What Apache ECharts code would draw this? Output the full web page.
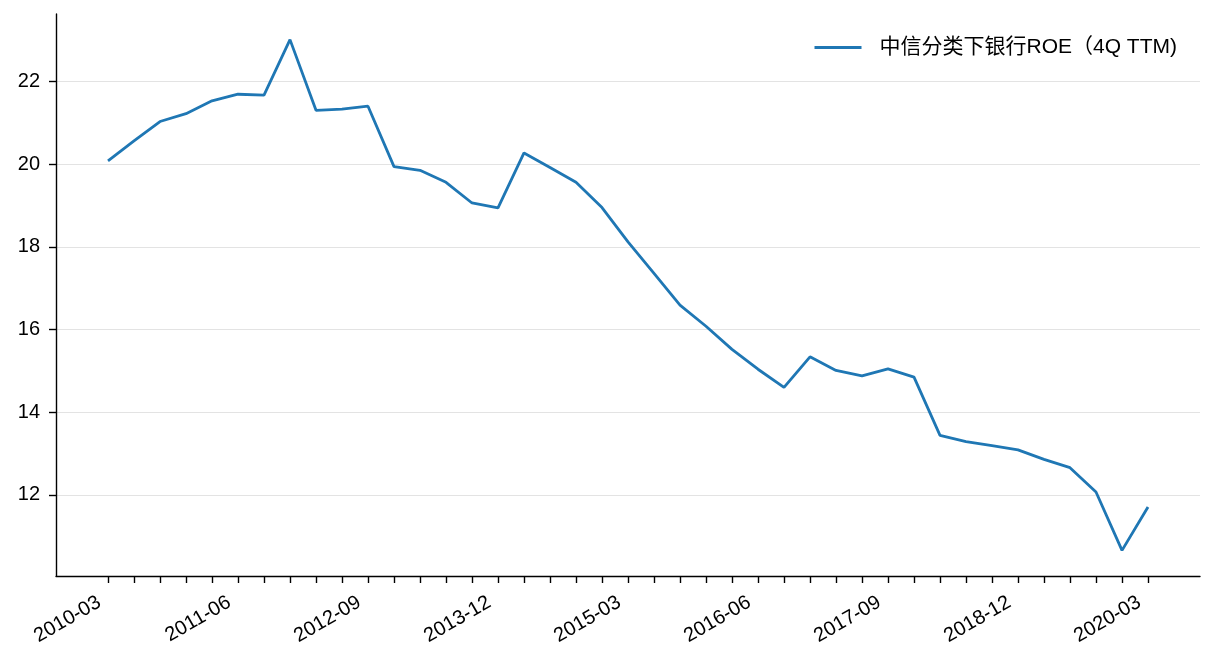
<!DOCTYPE html>
<html>
<head>
<meta charset="utf-8">
<script src="https://cdn.jsdelivr.net/npm/echarts@6/dist/echarts.min.js"></script>
<style>
  html, body { margin: 0; padding: 0; background: #fff; }
  #main { width: 1216px; height: 672px; }
</style>
</head>
<body>
<div id="main"></div>
<script>
// quarters 2010-03 .. 2020-03
var quarters = [
  '2010-03', '2010-06', '2010-09', '2010-12',
  '2011-03', '2011-06', '2011-09', '2011-12',
  '2012-03', '2012-06', '2012-09', '2012-12',
  '2013-03', '2013-06', '2013-09', '2013-12',
  '2014-03', '2014-06', '2014-09', '2014-12',
  '2015-03', '2015-06', '2015-09', '2015-12',
  '2016-03', '2016-06', '2016-09', '2016-12',
  '2017-03', '2017-06', '2017-09', '2017-12',
  '2018-03', '2018-06', '2018-09', '2018-12',
  '2019-03', '2019-06', '2019-09', '2019-12',
  '2020-03'
];
var roe = [
  20.08, 20.56, 21.03, 21.22, 21.53, 21.69, 21.67, 23.01, 21.30, 21.33,
  21.40, 19.94, 19.85, 19.56, 19.06, 18.94, 20.27, 19.92, 19.56, 18.95,
  18.12, 17.36, 16.59, 16.08, 15.52, 15.04, 14.60, 15.34, 15.01, 14.88,
  15.05, 14.85, 13.44, 13.29, 13.19, 13.09, 12.86, 12.66, 12.07, 10.66,
  11.71
];
var yTicks = [12, 14, 16, 18, 20, 22];
var seriesName = '中信分类下银行ROE（4Q TTM)';

var font = '"Liberation Sans", Arial, "Noto Sans CJK SC", sans-serif';

var tickIdx = [];
var labelIdx = [];
for (var i = 0; i < quarters.length; i++) {
  tickIdx.push(i);
  if (i % 5 === 0) labelIdx.push(i);
}
var points = [];
for (var j = 0; j < roe.length; j++) points.push([j, roe[j]]);

var chart = echarts.init(document.getElementById('main'));
chart.setOption({
  animation: false,
  grid: { left: 56, right: 16, top: 14, bottom: 96 },
  legend: {
    right: 34, top: 32,
    itemWidth: 47, itemHeight: 3,
    icon: 'rect',
    textStyle: { fontFamily: font, fontSize: 21, color: '#000', padding: [0, 0, 0, 13] },
    data: [seriesName]
  },
  xAxis: {
    type: 'value',
    min: -2, max: 42,
    axisLine: { onZero: false, lineStyle: { color: '#000', width: 1.4 } },
    axisTick: { show: true, length: 7, customValues: tickIdx, lineStyle: { color: '#000', width: 1.4 } },
    axisLabel: {
      customValues: labelIdx,
      rotate: 30,
      margin: 20,
      padding: [0, 10, 0, 0],
      color: '#000',
      fontFamily: font,
      fontSize: 20,
      formatter: function (v) { return quarters[Math.round(v)] || ''; }
    },
    splitLine: { show: false }
  },
  yAxis: {
    type: 'value',
    min: 10.04, max: 23.63,
    axisLine: { show: true, onZero: false, lineStyle: { color: '#000', width: 1.4 } },
    axisTick: { show: true, length: 7, customValues: yTicks, lineStyle: { color: '#000', width: 1.4 } },
    axisLabel: {
      customValues: yTicks,
      color: '#000',
      fontFamily: font,
      fontSize: 20,
      margin: 16
    },
    splitLine: { show: true, lineStyle: { color: '#e3e3e3', width: 1.2 } }
  },
  series: [{
    name: seriesName,
    type: 'line',
    data: points,
    symbol: 'none',
    lineStyle: { color: '#1f77b4', width: 2.8 },
    itemStyle: { color: '#1f77b4' }
  }]
});
</script>
</body>
</html>
